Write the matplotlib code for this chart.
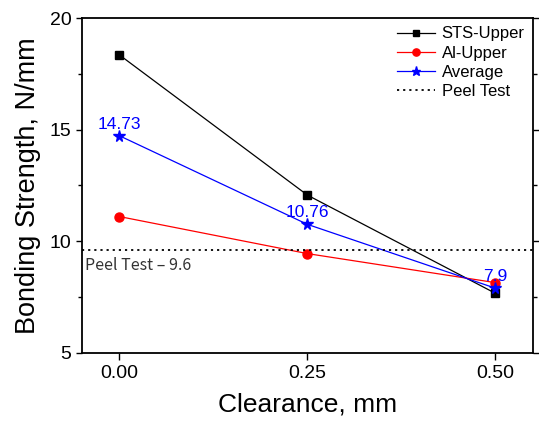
import matplotlib
matplotlib.use('Agg')
from matplotlib import pyplot as plt

# data
clearance = [0.0, 0.25, 0.5]
sts_upper = [18.35, 12.07, 7.67]
al_upper = [11.11, 9.45, 8.15]
average = [14.73, 10.76, 7.9]
avg_labels = ['14.73', '10.76', '7.9']
peel_test = 9.6

plt.rcParams['font.family'] = ['Liberation Sans', 'DejaVu Sans']

fig = plt.figure(figsize=(5.39, 4.24), dpi=100)
ax = fig.add_axes([0.1516, 0.1675, 0.8374, 0.79])

ax.plot(clearance, sts_upper, c='black', lw=0.9, marker='s', ms=6, label='STS-Upper')
ax.plot(clearance, al_upper, c='red', lw=0.9, marker='o', ms=6.5, label='Al-Upper')
ax.plot(clearance, average, c='blue', lw=0.9, marker='*', ms=8.5, label='Average')
ax.axhline(peel_test, c='black', ls=(0, (1.2, 2.2)), lw=1.3, label='Peel Test')

for x, y, s in zip(clearance, average, avg_labels):
    ax.annotate(s, (x, y), xytext=(0, 3), textcoords='offset points',
                ha='center', va='bottom', color='blue', fontsize=12.5)

ax.text(-0.046, peel_test - 0.3, 'Peel Test \u2013 9.6', ha='left', va='top',
        fontsize=11.5, color='#333333', family=['Noto Sans CJK KR', 'DejaVu Sans'])

ax.set_xlim(-0.05, 0.55)
ax.set_ylim(5, 20)
ax.set_xticks([0.0, 0.25, 0.5])
ax.set_xticklabels(['0.00', '0.25', '0.50'])
ax.set_yticks([5, 10, 15, 20])
ax.set_yticks([7.5, 12.5, 17.5], minor=True)
ax.tick_params(axis='both', which='major', labelsize=14, direction='out', length=5, width=1)
ax.tick_params(axis='y', which='minor', direction='out', length=3, width=1)
ax.tick_params(axis='y', which='both', right=True)
ax.tick_params(axis='y', which='major', length=4)
for sp in ax.spines.values():
    sp.set_linewidth(1.3)

ax.set_xlabel('Clearance, mm', fontsize=19, labelpad=8)
ax.set_ylabel('Bonding Strength, N/mm', fontsize=19.5, labelpad=6)

leg = ax.legend(loc='upper right', fontsize=12, frameon=False, handlelength=2.3,
                handletextpad=0.4, labelspacing=0.25, borderaxespad=0.1,
                markerscale=0.8)

fig.savefig('out.png', dpi=100)
